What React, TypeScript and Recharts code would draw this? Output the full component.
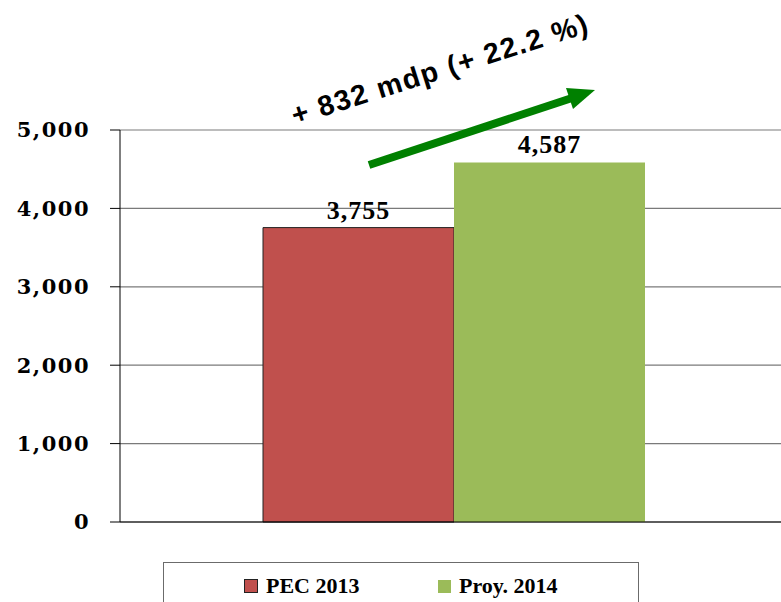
import React from "react";
import { BarChart, Bar, XAxis, YAxis, CartesianGrid, Legend, LabelList } from "recharts";

const categories = [""];
const pec2013 = [3755];
const proy2014 = [4587];
const yTicks = [0, 1000, 2000, 3000, 4000, 5000];
const seriesNames = ["PEC 2013", "Proy. 2014"];
const seriesColors = ["#C0504D", "#9BBB59"];
const annotation = "+ 832 mdp (+ 22.2 %)";

const data = categories.map((c, i) => ({ name: c, a: pec2013[i], b: proy2014[i] }));

const fmt = (v: number) => v.toLocaleString("en-US");

const LegendBox = () => (
  <div
    style={{
      width: "100%",
      height: "100%",
      boxSizing: "border-box",
      border: "1px solid #6b6b6b",
      position: "relative",
      fontFamily: "'Liberation Serif', serif",
      fontWeight: "bold",
      fontSize: 22,
      color: "#000",
    }}
  >
    <div style={{ position: "absolute", left: 80, top: 10, display: "flex", alignItems: "center" }}>
      <span style={{ display: "inline-block", width: 12, height: 12, background: seriesColors[0], border: "1px solid #222", marginRight: 8 }} />
      <span>{seriesNames[0]}</span>
    </div>
    <div style={{ position: "absolute", left: 274, top: 10, display: "flex", alignItems: "center" }}>
      <span style={{ display: "inline-block", width: 13, height: 13, background: seriesColors[1], marginRight: 8 }} />
      <span>{seriesNames[1]}</span>
    </div>
  </div>
);

export default function App() {
  return (
    <div style={{ position: "fixed", left: 0, top: 0, width: 781, height: 602, overflow: "hidden", background: "#fff" }}>
      <BarChart
        width={790}
        height={602}
        data={data}
        margin={{ top: 130, right: 2, left: 0, bottom: 78 }}
        barGap={0}
      >
        <CartesianGrid vertical={false} stroke="#7a7a7a" strokeWidth={1.2} />
        <XAxis dataKey="name" tick={false} axisLine={{ stroke: "#000" }} tickLine={false} height={2} />
        <YAxis
          width={120}
          domain={[0, 5000]}
          ticks={yTicks}
          tickFormatter={fmt}
          axisLine={{ stroke: "#000" }}
          tickLine={{ stroke: "#000" }}
          tickSize={10}
          tickMargin={20}
          tick={{ fill: "#000", fontSize: 21, fontWeight: "bold", fontFamily: "'DejaVu Serif', serif", letterSpacing: 1.5 }}
          interval={0}
        />
        <Legend
          layout="horizontal"
          verticalAlign="middle"
          align="center"
          wrapperStyle={{ left: 163, top: 562, width: 476, height: 50 }}
          content={() => <LegendBox />}
        />
        <Bar dataKey="a" name={seriesNames[0]} fill={seriesColors[0]} stroke="#222" strokeWidth={1} barSize={191} isAnimationActive={false}>
          <LabelList dataKey="a" position="top" offset={9} formatter={(v: any) => fmt(Number(v))} style={{ fill: "#000", fontSize: 26, fontWeight: "bold", fontFamily: "'Liberation Serif', serif", letterSpacing: 1 }} />
        </Bar>
        <Bar dataKey="b" name={seriesNames[1]} fill={seriesColors[1]} barSize={191} isAnimationActive={false}>
          <LabelList dataKey="b" position="top" offset={9} formatter={(v: any) => fmt(Number(v))} style={{ fill: "#000", fontSize: 26, fontWeight: "bold", fontFamily: "'Liberation Serif', serif", letterSpacing: 1 }} />
        </Bar>
      </BarChart>
      <svg width={781} height={602} style={{ position: "absolute", left: 0, top: 0, pointerEvents: "none" }}>
        <line x1={369} y1={165} x2={572} y2={98} stroke="#008000" strokeWidth={8} />
        <polygon points="595,90 566,88 573,109" fill="#008000" />
        <text
          x={440}
          y={69}
          textAnchor="middle"
          dominantBaseline="central"
          transform="rotate(-17.5 440 69)"
          fontFamily="'Liberation Sans', Arial, sans-serif"
          fontWeight="bold"
          fontSize={28.5}
          letterSpacing={1.5}
          fill="#000"
        >
          {annotation}
        </text>
      </svg>
    </div>
  );
}
